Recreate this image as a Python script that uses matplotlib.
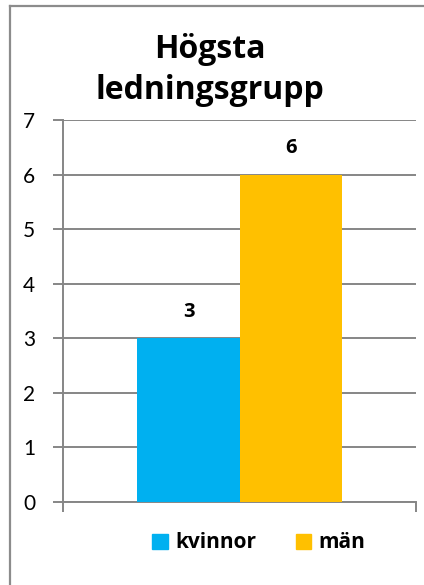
import matplotlib.pyplot as plt
from matplotlib.patches import Rectangle
from matplotlib.lines import Line2D

# data
categories = ['kvinnor', 'män']
values = [3, 6]
colors = ['#00B0F0', '#FFC000']
title = 'Högsta\nledningsgrupp'

plt.rcParams['font.family'] = ['Lato', 'DejaVu Sans']
bold_font = ['Open Sans', 'DejaVu Sans']

fig = plt.figure(figsize=(4.24, 5.85), dpi=100)
ax = fig.add_axes([63/424, 83/585, 353/424, 382/585])

# outer chart border (only left and top visible)
fig.add_artist(Line2D([10/424, 10/424], [0, 1 - 6/585], transform=fig.transFigure,
                      color='#8c8c8c', lw=1.6))
fig.add_artist(Line2D([10/424, 1], [1 - 6/585, 1 - 6/585], transform=fig.transFigure,
                      color='#8c8c8c', lw=1.6))

xpos = [-0.5, 0.5]
bars = ax.bar(xpos, values, width=1.0, color=colors, zorder=3)
for x, v in zip(xpos, values):
    ax.text(x, v + 0.3, str(v), ha='center', va='bottom', fontsize=14.5,
            fontweight='bold', family=bold_font, zorder=4)

ax.set_ylim(0, 7)
ax.set_xlim(-1.73, 1.73)
ax.set_yticks(range(0, 8))
ax.set_xticks([-1.73, 1.73])
ax.set_xticklabels([])
ax.yaxis.grid(True, color='#868686', lw=1.4, zorder=0)
ax.set_axisbelow(True)
for s in ['top', 'right']:
    ax.spines[s].set_visible(False)
for s in ['left', 'bottom']:
    ax.spines[s].set_color('#868686')
    ax.spines[s].set_linewidth(1.4)
ax.tick_params(axis='y', length=7, width=1.4, color='#868686', labelsize=15, pad=13)
ax.tick_params(axis='x', length=7, width=1.4, color='#868686')

fig.text(210/424, 1 - 70/585, title, ha='center', va='center', fontsize=23,
         fontweight='bold', family=bold_font, linespacing=1.3)

handles = [Rectangle((0, 0), 1, 1, color=c) for c in colors]
leg = fig.legend(handles, categories, loc='center', bbox_to_anchor=(259/424, 1 - 543/585),
                 ncol=2, frameon=False, handlelength=0.75, handleheight=0.75,
                 handletextpad=0.35, columnspacing=1.9,
                 prop={'weight': 'bold', 'size': 15, 'family': bold_font})

fig.savefig('out.png', dpi=100)
